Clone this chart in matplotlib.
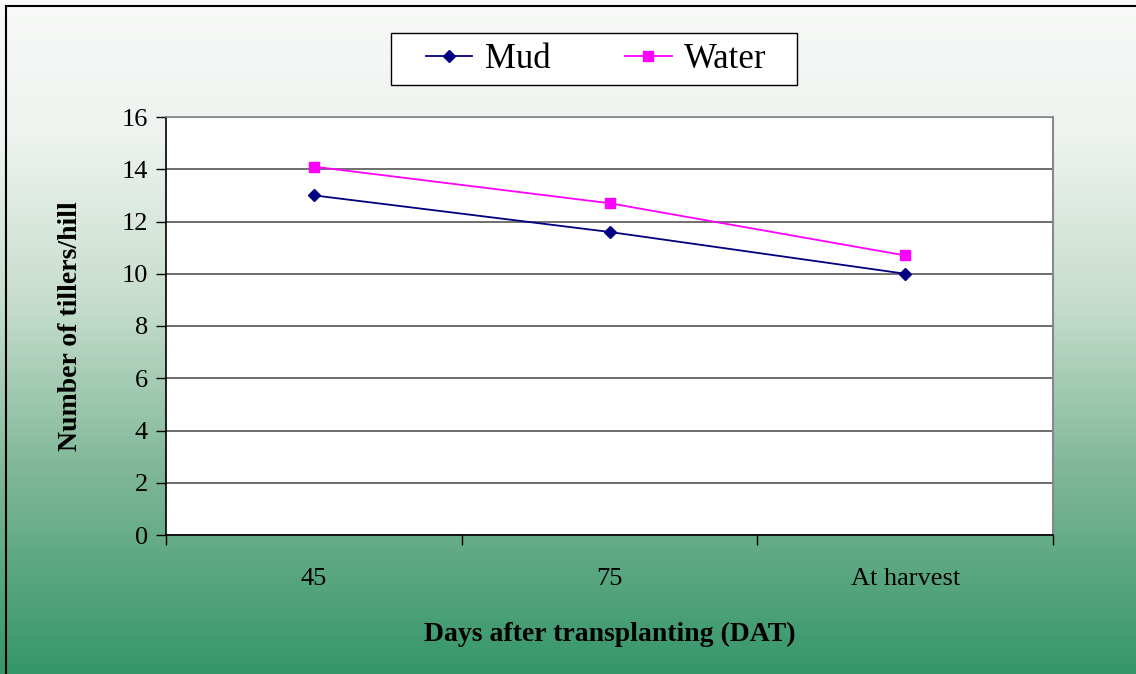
import numpy as np
import matplotlib
matplotlib.use("Agg")
import matplotlib.pyplot as plt
from matplotlib.colors import LinearSegmentedColormap
from matplotlib.lines import Line2D
from matplotlib.patches import Rectangle

categories = ["45", "75", "At harvest"]
mud = [13.0, 11.6, 10.0]
water = [14.1, 12.7, 10.7]

plt.rcParams['font.family'] = ['Liberation Serif', 'DejaVu Serif']

W, H = 1136, 674
fig = plt.figure(figsize=(W / 100, H / 100), dpi=100)

# gradient background: white at top, green at bottom
bg = fig.add_axes([0, 0, 1, 1], zorder=-10)
cmap = LinearSegmentedColormap.from_list(
    "bg", [(0.0, "#f8f9f8"), (0.2, "#eef3ef"), (0.45, "#c6ddcd"),
           (0.7, "#7fb798"), (1.0, "#35966a")])
grad = np.linspace(0, 1, 256).reshape(-1, 1)
bg.imshow(grad, aspect="auto", cmap=cmap, extent=[0, 1, 0, 1], origin="upper")
bg.set_axis_off()

# outer border (left and top)
fig.add_artist(Line2D([6 / W, 6 / W], [0, 1 - 6 / H], color="black", lw=1.5))
fig.add_artist(Line2D([6 / W, 1], [1 - 6 / H, 1 - 6 / H], color="black", lw=1.5))

ax = fig.add_axes([166 / W, 139 / H, 887 / W, 418 / H])
ax.set_facecolor("white")
x = np.arange(len(categories))

ax.plot(x, mud, color="#000080", lw=1.3, marker="D", markersize=6.5, label="Mud")
ax.plot(x, water, color="#ff00ff", lw=1.3, marker="s", markersize=7, label="Water")

ax.set_xlim(-0.5, len(categories) - 0.5)
ax.set_ylim(0, 16)
ax.set_yticks(np.arange(0, 17, 2))
ax.yaxis.grid(True, color="#555555", lw=1.2)
ax.set_axisbelow(True)

ax.set_xticks(x)
ax.set_xticklabels(categories)
ax.set_xticks(np.arange(-0.5, len(categories), 1), minor=True)
ax.tick_params(axis="x", which="major", length=0, pad=24, labelsize=19)
ax.tick_params(axis="x", which="minor", length=7, direction="out", width=1)
ax.tick_params(axis="y", length=7, direction="out", width=1, labelsize=19, pad=6)

for s in ["left", "bottom"]:
    ax.spines[s].set_color("black")
    ax.spines[s].set_linewidth(1.2)
ax.spines["right"].set_color("#888888")
ax.spines["right"].set_linewidth(1.5)
ax.spines["top"].set_color("#888888")
ax.spines["top"].set_linewidth(1.2)

ax.set_xlabel("Days after transplanting (DAT)", fontsize=20, fontweight="bold", labelpad=23)
ax.set_ylabel("Number of tillers/hill", fontsize=20, fontweight="bold", labelpad=28)

# legend box drawn separately, legend itself without frame
fig.add_artist(Rectangle((391 / W, 1 - 85 / H), 406 / W, 52 / H,
                         transform=fig.transFigure, facecolor="white",
                         edgecolor="black", lw=1.0, zorder=5))
leg = fig.legend(loc="center", bbox_to_anchor=(596 / W, 1 - 60 / H), ncol=2,
                 fontsize=25, frameon=False, columnspacing=2.15,
                 handlelength=1.35, handletextpad=0.35, borderpad=0.2)
leg.set_zorder(6)

fig.savefig("out.png", dpi=100)
